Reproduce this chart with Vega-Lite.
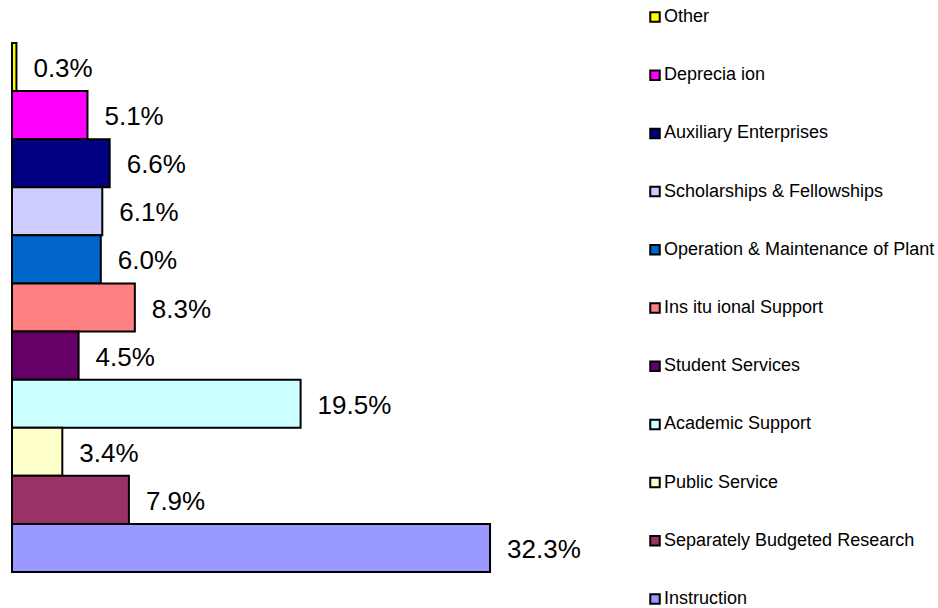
{
  "$schema": "https://vega.github.io/schema/vega-lite/v6.json",
  "autosize": "none",
  "width": 592,
  "height": 529,
  "padding": {"left": 12, "top": 43, "right": 334, "bottom": 36},
  "background": "white",
  "config": {"view": {"stroke": null}, "font": "Liberation Sans"},
  "data": {
    "values": [
      {"category": "Other", "share": 0.003},
      {"category": "Deprecia ion", "share": 0.051},
      {"category": "Auxiliary Enterprises", "share": 0.066},
      {"category": "Scholarships & Fellowships", "share": 0.061},
      {"category": "Operation & Maintenance of Plant", "share": 0.060},
      {"category": "Ins itu ional Support", "share": 0.083},
      {"category": "Student Services", "share": 0.045},
      {"category": "Academic Support", "share": 0.195},
      {"category": "Public Service", "share": 0.034},
      {"category": "Separately Budgeted Research", "share": 0.079},
      {"category": "Instruction", "share": 0.323}
    ]
  },
  "encoding": {
    "y": {
      "field": "category",
      "type": "nominal",
      "sort": null,
      "axis": null,
      "scale": {"paddingInner": 0, "paddingOuter": 0}
    },
    "x": {
      "field": "share",
      "type": "quantitative",
      "axis": null,
      "scale": {"domain": [0, 0.4], "nice": false, "zero": true}
    }
  },
  "layer": [
    {
      "mark": {"type": "bar", "stroke": "black", "strokeWidth": 2, "clip": false},
      "encoding": {
        "fill": {
          "field": "category",
          "type": "nominal",
          "sort": null,
          "scale": {
            "domain": ["Other", "Deprecia ion", "Auxiliary Enterprises", "Scholarships & Fellowships", "Operation & Maintenance of Plant", "Ins itu ional Support", "Student Services", "Academic Support", "Public Service", "Separately Budgeted Research", "Instruction"],
            "range": ["#FFFF00", "#FF00FF", "#000080", "#CCCCFF", "#0066CC", "#FF8080", "#660066", "#CCFFFF", "#FFFFCC", "#993366", "#9999FF"]
          },
          "legend": {
            "title": null,
            "orient": "none",
            "legendX": 634,
            "legendY": -35,
            "symbolType": "square",
            "symbolSize": 90,
            "symbolStrokeColor": "black",
            "symbolStrokeWidth": 2,
            "symbolOpacity": 1,
            "labelFont": "Liberation Sans",
            "labelFontSize": 18,
            "labelColor": "black",
            "labelOffset": 0,
            "rowPadding": 40.2,
            "labelLimit": 300
          }
        }
      }
    },
    {
      "mark": {"type": "text", "align": "left", "baseline": "middle", "dx": 17, "dy": 2, "fontSize": 26, "font": "Liberation Sans", "color": "black"},
      "encoding": {
        "text": {"field": "share", "type": "quantitative", "format": ".1%"}
      }
    }
  ]
}
